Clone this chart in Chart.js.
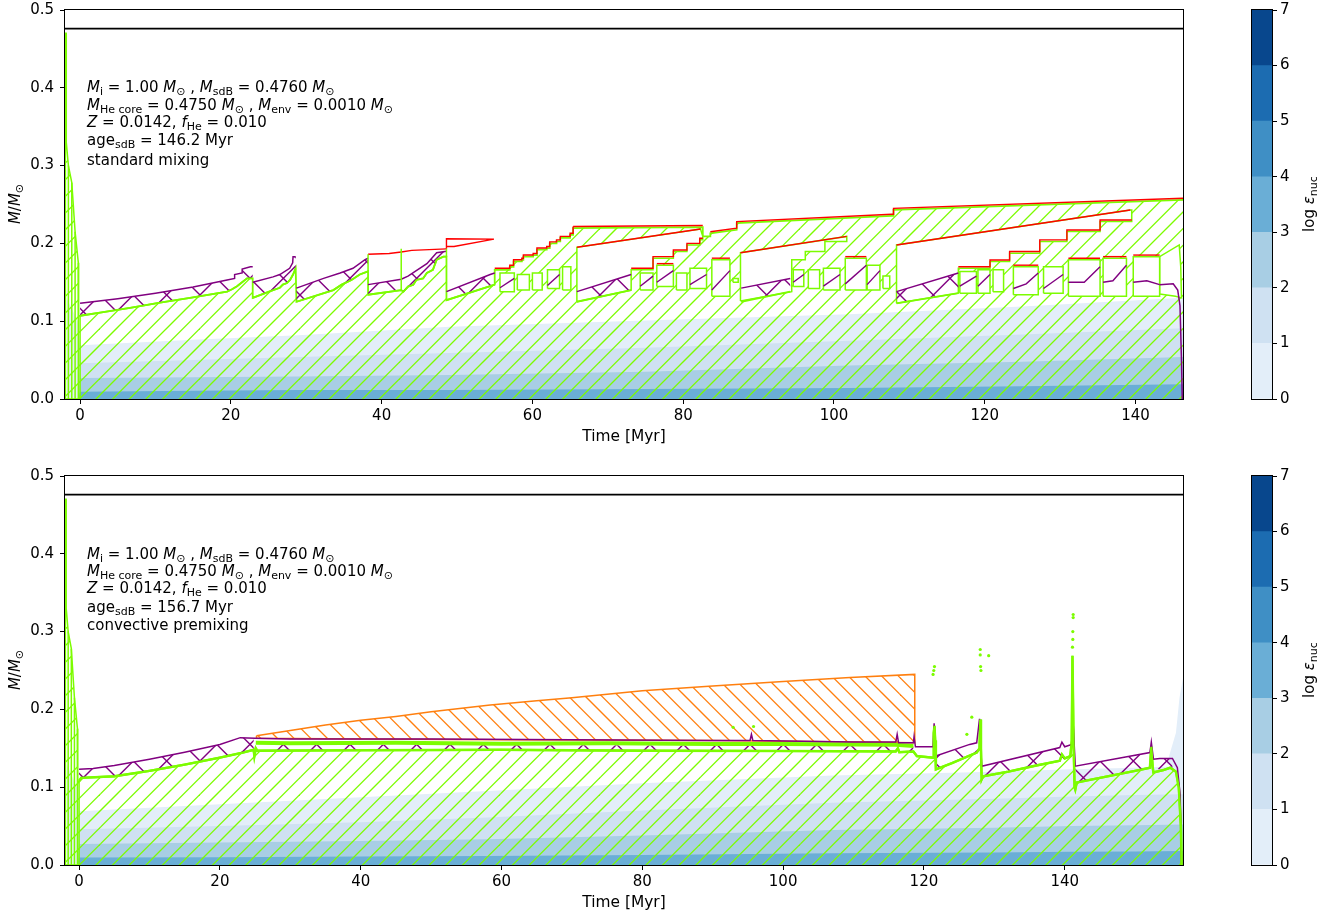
<!DOCTYPE html>
<html><head><meta charset="utf-8">
<script src="https://cdn.jsdelivr.net/npm/chart.js@4/dist/chart.umd.min.js"></script>
<style>
html,body{margin:0;padding:0;background:#fff;}
body{width:1338px;height:917px;overflow:hidden;position:relative;font-family:"DejaVu Sans",sans-serif;color:#000;}
canvas{position:absolute;}
.ann{position:absolute;left:87px;font-size:15px;line-height:18px;white-space:nowrap;}
.ann sub,.rot sub{font-size:11px;line-height:0;vertical-align:-3px;}
.rot{position:absolute;transform:translate(-50%,-50%) rotate(-90deg);font-size:15px;white-space:nowrap;line-height:18px;}
</style></head><body>
<canvas id="cTop" width="1240" height="465" style="left:0;top:-5px"></canvas>
<canvas id="cBot" width="1240" height="465" style="left:0;top:461px"></canvas>
<canvas id="cbTop" width="98" height="462" style="left:1240px;top:-2px"></canvas>
<canvas id="cbBot" width="98" height="462" style="left:1240px;top:464px"></canvas>
<div id="overlay"></div>
<script>
// ================= DATA =================
const xTicks = [0, 20, 40, 60, 80, 100, 120, 140];
const yTicks = [0, 0.1, 0.2, 0.3, 0.4, 0.5];
const cbTicks = [0, 1, 2, 3, 4, 5, 6, 7];
const cbColors = ['#e3eef9', '#cfe1f2', '#a8cee4', '#6aaed6', '#3f8fc5', '#1c6cb1', '#08478d'];
const totalMass = 0.476;
const topXRange = [-2.0, 146.3];
const botXRange = [-2.0, 156.8];

// pre-sdB contraction phase (both panels)
const prePoly = [[-1.95,0],[-1.95,0.47],[-1.85,0.47],[-1.83,0.33],[-1.55,0.30],[-1.1,0.278],[-0.66,0.215],[-0.23,0.175],[-0.2,0.107],[0,0.107],[0,0]];
const preVert = [[-1.55,0],[-1.55,0.30],[-1.55,null],[-1.1,0],[-1.1,0.278],[-1.1,null],[-0.66,0],[-0.66,0.215],[-0.66,null],[-0.23,0],[-0.23,0.175]];

// ---- top panel: log eps_nuc bands (upper boundaries of levels 0,1,2,3)
const topBandT = [-1.8, -0.3, 0, 15, 29, 49, 75, 102, 125, 146.3];
const topBand0 = [0.13, 0.10, 0.069, 0.076, 0.082, 0.093, 0.101, 0.109, 0.119, 0.130];
const topBand1 = [0, 0, 0.046, 0.050, 0.054, 0.059, 0.066, 0.075, 0.083, 0.091];
const topBand2 = [0, 0, 0.027, 0.028, 0.029, 0.031, 0.035, 0.043, 0.048, 0.054];
const topBand3 = [0, 0, 0.0094, 0.0105, 0.0116, 0.0116, 0.0128, 0.014, 0.0165, 0.019];

// ---- top panel: convective envelope (upper edge of hatched region)
const topEnv = [[0,0.107],[2.65,0.111],[6.63,0.117],[10.61,0.124],[14.59,0.130],[19.5,0.138],[20.16,0.141],[20.82,0.145],[21.49,0.150],[22.15,0.155],[22.9,0.155],
 [22.9,0.130],[25.6,0.140],[26.5,0.143],[26.9,0.147],[27.45,0.149],[27.85,0.153],[28.25,0.160],[28.6,0.168],
 [28.7,0.125],[33.6,0.140],[34.7,0.147],[36.0,0.153],[37.1,0.160],[38.2,0.164],
 [38.2,0.134],[42.6,0.140],[42.9,0.138],[43.5,0.1445],[44.2,0.1467],[44.6,0.153],[45.5,0.155],[46.0,0.162],[46.8,0.166],[47.3,0.179],[48.2,0.183],[48.6,0.183],
 [48.6,0.127],[54.4,0.145],[55.0,0.147],
 [55.0,0.166],[57.0,0.166],[57.0,0.170],[57.5,0.170],[57.5,0.177],[58.6,0.177],[58.6,0.179],[58.8,0.179],[58.8,0.183],[60.1,0.183],[60.1,0.185],[60.6,0.185],[60.6,0.192],[61.9,0.192],[61.9,0.194],[62.3,0.194],[62.3,0.200],[63.2,0.200],[63.2,0.2025],[63.7,0.2025],[63.7,0.207],[65.0,0.207],[65.0,0.211],[65.4,0.211],[65.4,0.2197],
 [82.6,0.221],[82.6,0.209],[83.6,0.209],[83.6,0.213],[87.1,0.2175],[87.1,0.226],[107.65,0.2355],[107.9,0.2355],[107.9,0.243],[146.3,0.256]];

// core boundary segments (green) and the purple boundary above them
const topCoreSegs = [
 [[0,0.107],[2.65,0.111],[6.63,0.117],[10.61,0.124],[14.59,0.130],[19.5,0.138],[20.16,0.141],[20.82,0.145],[21.49,0.150],[22.15,0.155],[22.9,0.155]],
 [[22.9,0.130],[25.6,0.140],[26.5,0.143],[26.9,0.147],[27.45,0.149],[27.85,0.153],[28.25,0.160],[28.6,0.168]],
 [[28.7,0.125],[33.6,0.140],[34.7,0.147],[36.0,0.153],[37.1,0.160],[38.2,0.164]],
 [[38.2,0.134],[42.6,0.140],[42.9,0.138],[43.5,0.1445],[44.2,0.1467],[44.6,0.153],[45.5,0.155],[46.0,0.162],[46.8,0.166],[47.3,0.179],[48.2,0.183],[48.6,0.183]],
 [[48.6,0.127],[54.4,0.145],[55.0,0.147]],
 [[65.9,0.125],[73.1,0.140]],
 [[87.7,0.125],[94.2,0.138]],
 [[108.3,0.123],[116.5,0.136]]
];
const topPurpleSegs = [
 [[0,0.123],[5,0.129],[10,0.136],[15,0.144],[19.5,0.153],[20.5,0.155],[20.5,0.160],[21.5,0.162],[21.5,0.167],[22.6,0.170],[22.9,0.170]],
 [[22.9,0.150],[25.6,0.157],[26.5,0.160],[27.8,0.168],[28.2,0.175],[28.25,0.183],[28.6,0.183]],
 [[28.7,0.1425],[32.3,0.155],[34.5,0.162],[36.2,0.168],[37.8,0.179],[38.2,0.181]],
 [[38.2,0.147],[42.6,0.154],[43.5,0.158],[44.6,0.165],[46.0,0.174],[47.3,0.188],[48.6,0.19]],
 [[48.6,0.138],[54.4,0.160],[55.0,0.162]],
 [[65.9,0.138],[73.1,0.160]],
 [[87.7,0.1425],[94.2,0.155]],
 [[108.3,0.138],[116.5,0.162]]
];
const topPurpleEnd = [[143.2,0.147],[145,0.148],[145.6,0.14],[145.9,0.12],[146.1,0.05],[146.2,0.0]];
// purple boundary pieces inside the small non-convective boxes
const topPurpleInner = [
 [[55.7,0.143],[57.6,0.155]], [[62.0,0.146],[63.6,0.160]],
 [[74.3,0.145],[76.0,0.158]], [[76.5,0.150],[78.7,0.165]], [[80.9,0.147],[83.1,0.160]], [[83.8,0.140],[86.2,0.165]],
 [[94.6,0.150],[96.0,0.160]], [[98.6,0.145],[100.8,0.160]], [[101.5,0.148],[104.3,0.172]], [[104.4,0.147],[106.1,0.165]],
 [[116.7,0.145],[118.9,0.158]], [[119.1,0.145],[120.7,0.160]], [[123.8,0.142],[125.5,0.148],[127.1,0.162]], [[127.8,0.142],[130.4,0.160]],
 [[131.1,0.150],[133.2,0.150],[135.3,0.170]], [[135.7,0.150],[137.0,0.152],[138.8,0.172]], [[139.7,0.150],[141.5,0.152],[143.2,0.147]]
];

// non-convective holes inside the hatched region
const topHoles = [
 [[65.9,0.125],[65.9,0.195],[82.3,0.2185],[82.6,0.209],[82.6,0.2046],[82.2,0.2046],[82.2,0.198],[80.5,0.198],[80.5,0.1896],[78.7,0.1896],[78.7,0.181],[76.0,0.181],[76.0,0.166],[73.1,0.166],[73.1,0.140]],
 [[87.6,0.126],[87.6,0.188],[101.7,0.209],[101.7,0.2025],[98.8,0.2025],[98.8,0.1896],[96.2,0.1896],[96.2,0.179],[94.4,0.179],[94.4,0.138]],
 [[108.3,0.123],[108.3,0.198],[139.3,0.243],[139.5,0.243],[139.5,0.228],[135.3,0.228],[135.3,0.2153],[130.9,0.2153],[130.9,0.2025],[127.3,0.2025],[127.3,0.1875],[123.3,0.1875],[123.3,0.1767],[120.7,0.1767],[120.7,0.168],[116.5,0.168],[116.5,0.136]],
 [[143.2,0.135],[143.2,0.183],[145.8,0.198],[146.0,0.17],[146.1,0.13],[145.3,0.132]]
];
// small boxes: [t0, t1, m0, m1]
const topBoxes = [
 [55.7,57.6,0.138,0.162],[58.0,59.6,0.140,0.160],[60.0,61.3,0.140,0.162],[62.0,63.6,0.142,0.166],[64.0,65.1,0.140,0.170],
 [74.3,76.0,0.140,0.162],[76.5,78.7,0.1445,0.172],[79.1,80.5,0.140,0.162],[80.9,83.1,0.142,0.168],[83.8,86.2,0.132,0.179],[86.6,87.3,0.150,0.155],
 [94.6,96.0,0.1445,0.166],[96.6,98.1,0.142,0.166],[98.6,100.8,0.140,0.168],[101.5,104.3,0.140,0.181],[104.4,106.1,0.140,0.172],[106.5,107.4,0.142,0.158],
 [116.7,118.9,0.136,0.164],[119.1,120.7,0.136,0.166],[121.1,122.5,0.138,0.166],[123.8,127.1,0.134,0.170],[127.8,130.4,0.136,0.170],[131.1,135.3,0.132,0.179],[135.7,138.8,0.132,0.181],[139.7,143.2,0.132,0.183]
];
const topRed = [
 [[38.2,0.186],[41.0,0.187],[42.6,0.189],[44.0,0.191],[48.6,0.193]],
 [[48.6,0.193],[48.6,0.206],[54.9,0.2055],[49.6,0.196],[48.6,0.196]],
 [[55.0,0.168],[57.0,0.168],[57.0,0.172],[57.5,0.172],[57.5,0.179],[58.6,0.179],[58.6,0.181],[58.8,0.181],[58.8,0.185],[60.1,0.185],[60.1,0.187],[60.6,0.187],[60.6,0.194],[61.9,0.194],[61.9,0.196],[62.3,0.196],[62.3,0.202],[63.2,0.202],[63.2,0.2045],[63.7,0.2045],[63.7,0.209],[65.0,0.209],[65.0,0.213],[65.4,0.213],[65.4,0.2217]],
 [[65.4,0.2217],[82.6,0.223]],
 [[65.9,0.195],[82.3,0.2185]],
 [[73.1,0.168],[76.0,0.168],[76.0,0.183],[78.7,0.183],[78.7,0.1916],[80.5,0.1916],[80.5,0.200],[82.2,0.200],[82.2,0.2066],[82.6,0.2066]],
 [[83.6,0.215],[87.1,0.2195],[87.1,0.228],[107.65,0.2375],[107.9,0.2375],[107.9,0.245],[146.3,0.258]],
 [[87.6,0.188],[101.7,0.209]],
 [[108.3,0.198],[139.3,0.243]],
 [[116.5,0.170],[120.7,0.170],[120.7,0.1787],[123.3,0.1787],[123.3,0.1895],[127.3,0.1895],[127.3,0.2045],[130.9,0.2045],[130.9,0.2173],[135.3,0.2173],[135.3,0.230],[139.5,0.230]],
 [[76.5,0.174],[78.7,0.174]],[[83.8,0.181],[86.2,0.181]],[[101.5,0.183],[104.3,0.183]],
 [[123.8,0.172],[127.1,0.172]],[[131.1,0.181],[135.3,0.181]],[[135.7,0.183],[138.8,0.183]],[[139.7,0.185],[143.2,0.185]]
];
const topGreenOut = [
 [[38.2,0.164],[38.2,0.186]], [[42.6,0.140],[42.6,0.193]], [[48.6,0.183],[48.6,0.193]]
];

// ---- bottom panel
const botBandT = [-1.8, -0.3, 0, 20, 40, 58, 80, 107, 130, 141, 150, 156.8];
const botBand0 = [0.13, 0.10, 0.069, 0.078, 0.087, 0.095, 0.105, 0.115, 0.120, 0.123, 0.125, 0.127];
const botBand1 = [0, 0, 0.046, 0.050, 0.055, 0.061, 0.070, 0.080, 0.085, 0.088, 0.090, 0.091];
const botBand2 = [0, 0, 0.027, 0.029, 0.031, 0.033, 0.038, 0.045, 0.048, 0.050, 0.051, 0.052];
const botBand3 = [0, 0, 0.0095, 0.010, 0.011, 0.0116, 0.013, 0.015, 0.016, 0.017, 0.0175, 0.018];
const botGlow = [[154.5,0.13],[155.8,0.17],[156.3,0.215],[156.8,0.24],[156.8,0.12]];

const botEnv = [[0,0.108],[0.3,0.112],[5,0.114],[10,0.121],[15,0.129],[20,0.138],[23,0.144],[24.8,0.148],[24.9,0.140],[25.1,0.150],[25.3,0.147],[40,0.1475],[60,0.148],[80,0.147],[100,0.1465],[116,0.146],[116.3,0.150],[116.5,0.145],[118.5,0.146],[119.0,0.140],[121.3,0.138],[121.4,0.170],[121.5,0.179],[121.6,0.160],[121.7,0.123],[124,0.131],[127.5,0.1445],[127.9,0.150],[128.0,0.187],[128.1,0.150],[128.2,0.110],[128.4,0.114],[132,0.120],[136,0.128],[139.3,0.134],[139.6,0.142],[140,0.137],[140.8,0.140],[141.0,0.16],[141.1,0.269],[141.25,0.16],[141.4,0.10],[141.5,0.097],[141.7,0.106],[145,0.112],[150,0.121],[152.1,0.125],[152.3,0.152],[152.5,0.125],[152.6,0.119],[154,0.122],[155.0,0.125],[155.8,0.120],[156.2,0.10],[156.5,0.05],[156.6,0.0]];
const botUpperGreen = [[25.1,0.157],[30,0.1565],[45,0.157],[60,0.156],[75,0.1565],[90,0.1555],[100,0.1555],[110,0.155],[116,0.1545],[118.5,0.153]];
const botPurple = [[0,0.123],[2,0.124],[5,0.128],[10,0.136],[15,0.145],[20,0.155],[22.9,0.1637],[25,0.163],[30,0.162],[50,0.162],[70,0.161],[90,0.160],[95.3,0.160],[95.5,0.168],[95.7,0.160],[110,0.158],[116,0.158],[116.2,0.168],[116.4,0.157],[118.5,0.157],[118.6,0.165],[118.8,0.152],[121.3,0.152],[121.45,0.182],[121.7,0.140],[126.5,0.155],[127.5,0.157],[127.9,0.188],[128.2,0.127],[139.3,0.151],[139.6,0.158],[140,0.152],[141.0,0.155],[141.1,0.20],[141.5,0.127],[152.1,0.1445],[152.3,0.158],[152.6,0.136],[153.5,0.137],[155.3,0.137],[156.0,0.125],[156.4,0.09],[156.6,0.0]];
const botPurpleBands = [
 [[0,0.123],[2,0.124],[5,0.128],[10,0.136],[15,0.145],[20,0.155],[22.9,0.1637],[24.8,0.163],[24.8,0.148],[23,0.144],[20,0.138],[15,0.129],[10,0.121],[5,0.114],[0.3,0.112],[0,0.108]],
 [[25.3,0.155],[118.5,0.153],[118.5,0.146],[25.3,0.147]],
 [[121.7,0.140],[126.5,0.155],[127.5,0.157],[127.5,0.1445],[124,0.131],[121.7,0.123]],
 [[128.2,0.127],[139.3,0.151],[140.8,0.153],[140.8,0.140],[139.3,0.134],[136,0.128],[132,0.120],[128.4,0.114],[128.2,0.110]],
 [[141.5,0.127],[152.1,0.1445],[153.5,0.137],[155.3,0.137],[155.3,0.125],[154,0.122],[152.1,0.125],[145,0.112],[141.7,0.106]]
];
const botOrangeTop = [[25.2,0.166],[30,0.173],[35,0.180],[40,0.186],[45,0.191],[50,0.197],[58.4,0.2057],[65,0.211],[70,0.215],[80,0.224],[90,0.230],[100,0.236],[109.5,0.241],[118.7,0.245]];
const botOrangeBottom = [[118.7,0.157],[110,0.158],[90,0.160],[60,0.161],[40,0.162],[25.2,0.163]];
const botDots = [[92.9,0.177],[95.8,0.178],[121.3,0.245],[121.4,0.25],[121.5,0.255],[126.1,0.168],[126.8,0.19],[128.0,0.27],[128.0,0.277],[128.05,0.255],[128.1,0.25],[129.2,0.269],[141.1,0.28],[141.15,0.29],[141.15,0.30],[141.2,0.318],[141.2,0.322]];

const annTop = [
 '<i>M</i><sub>i</sub> = 1.00 <i>M</i><sub>⊙</sub> , <i>M</i><sub>sdB</sub> = 0.4760 <i>M</i><sub>⊙</sub>',
 '<i>M</i><sub>He core</sub> = 0.4750 <i>M</i><sub>⊙</sub> , <i>M</i><sub>env</sub> = 0.0010 <i>M</i><sub>⊙</sub>',
 '<i>Z</i> = 0.0142, <i>f</i><sub>He</sub> = 0.010',
 'age<sub>sdB</sub> = 146.2 Myr',
 'standard mixing'];
const annBot = [
 '<i>M</i><sub>i</sub> = 1.00 <i>M</i><sub>⊙</sub> , <i>M</i><sub>sdB</sub> = 0.4760 <i>M</i><sub>⊙</sub>',
 '<i>M</i><sub>He core</sub> = 0.4750 <i>M</i><sub>⊙</sub> , <i>M</i><sub>env</sub> = 0.0010 <i>M</i><sub>⊙</sub>',
 '<i>Z</i> = 0.0142, <i>f</i><sub>He</sub> = 0.010',
 'age<sub>sdB</sub> = 156.7 Myr',
 'convective premixing'];
const annTopY = [78, 96, 113, 131, 151];
const annBotY = [545, 562, 579, 598, 616];

// ================= RENDER =================
const G = '#7cfc00', PUR = '#800080', RED = '#ff0000', ORA = '#ff7f0e';
const FONT = {family: 'DejaVu Sans', size: 15};
const TFONT = {family: 'DejaVu Sans', size: 15.4};

function hatchPattern(color, dirs, perTile, lw) {
  const S = 100, c = document.createElement('canvas');
  c.width = c.height = S;
  const g = c.getContext('2d');
  g.strokeStyle = color; g.lineWidth = lw;
  const sp = S / perTile;
  for (const d of dirs) {
    for (let k = -perTile - 2; k <= 2 * perTile + 2; k++) {
      const cc = k * sp;
      g.beginPath();
      if (d === '/') { g.moveTo(cc + 3, -3); g.lineTo(cc - S - 3, S + 3); }
      else { g.moveTo(cc - 3, -3); g.lineTo(cc + S + 3, S + 3); }
      g.stroke();
    }
  }
  return g.createPattern(c, 'repeat');
}
const greenHatch = hatchPattern(G, ['/'], 6, 1.3);
const purpleX = hatchPattern(PUR, ['/', '\\'], 3, 1.4);
const orangeHatch = hatchPattern(ORA, ['\\'], 6, 1.3);

function D(points, o) {
  return Object.assign({
    data: points.map(p => ({x: p[0], y: p[1]})),
    pointRadius: 0, pointHoverRadius: 0, tension: 0, fill: false,
    borderWidth: 1.5, borderColor: 'rgba(0,0,0,0)', backgroundColor: 'rgba(0,0,0,0)', spanGaps: false
  }, o);
}
const closed = a => a.concat([a[0]]);
const boxPoly = b => [[b[0],b[2]],[b[0],b[3]],[b[1],b[3]],[b[1],b[2]],[b[0],b[2]]];
function bands(T, arrs) {
  return arrs.map((a, i) => D(T.map((t, j) => [t, a[j]]), {fill: 'origin', backgroundColor: cbColors[i], order: 110 - i}));
}

const frame = {
  id: 'frame',
  afterDatasetsDraw(chart) {
    const {ctx, chartArea: a} = chart;
    ctx.save(); ctx.strokeStyle = '#000'; ctx.lineWidth = 1;
    ctx.strokeRect(Math.round(a.left) - 0.5, Math.round(a.top) - 0.5, Math.round(a.right - a.left) + 1, Math.round(a.bottom - a.top) + 1);
    ctx.restore();
  }
};

function mainChart(id, range, datasets) {
  return new Chart(document.getElementById(id), {
    type: 'line',
    data: {datasets},
    options: {
      responsive: false, animation: false, events: [], devicePixelRatio: 1,
      layout: {padding: {left: 0, right: 57, top: 15, bottom: 0}},
      plugins: {legend: {display: false}, tooltip: {enabled: false}},
      scales: {
        x: {type: 'linear', min: range[0], max: range[1],
            afterBuildTicks: s => { s.ticks = xTicks.map(v => ({value: v})); },
            afterFit: s => { s.height = 61; },
            ticks: {color: '#000', font: FONT, padding: 3, maxRotation: 0},
            grid: {drawOnChartArea: false, tickLength: 5, color: '#000', lineWidth: 1},
            border: {display: false},
            title: {display: true, text: 'Time [Myr]', color: '#000', font: TFONT, padding: {top: 0, bottom: 14}}},
        y: {type: 'linear', min: 0, max: 0.5,
            afterBuildTicks: s => { s.ticks = yTicks.map(v => ({value: v})); },
            afterFit: s => { s.width = 65; },
            ticks: {color: '#000', font: FONT, padding: 6, callback: v => Number(v).toFixed(1)},
            grid: {drawOnChartArea: false, tickLength: 5, color: '#000', lineWidth: 1},
            border: {display: false}}
      }
    },
    plugins: [frame]
  });
}

// top panel datasets
const topSets = [
  ...bands(topBandT, [topBand0, topBand1, topBand2, topBand3]),
  D(closed(prePoly), {fill: 'shape', backgroundColor: greenHatch, borderColor: G, borderWidth: 1.5, order: 95}),
  D(topEnv, {fill: 'origin', backgroundColor: greenHatch, borderColor: G, borderWidth: 1.8, order: 90}),
  ...topHoles.map(h => D(closed(h), {fill: 'shape', backgroundColor: '#ffffff', borderColor: G, borderWidth: 1.5, order: 80})),
  ...topBoxes.map(b => D(boxPoly(b), {fill: 'shape', backgroundColor: '#ffffff', borderColor: G, borderWidth: 1.5, order: 79})),
  ...topCoreSegs.map((c, i) => D(closed(topPurpleSegs[i].concat(c.slice().reverse())), {fill: 'shape', backgroundColor: purpleX, order: 70})),
  ...topCoreSegs.map(c => D(c, {borderColor: G, borderWidth: 1.8, order: 66})),
  ...topPurpleSegs.map(p => D(p, {borderColor: PUR, borderWidth: 1.5, order: 60})),
  ...topPurpleInner.map(p => D(p, {borderColor: PUR, borderWidth: 1.4, order: 60})),
  D(topPurpleEnd, {borderColor: PUR, borderWidth: 1.5, order: 60}),
  ...topRed.map(r => D(r, {borderColor: RED, borderWidth: 1.4, order: 55})),
  ...topGreenOut.map(g => D(g, {borderColor: G, borderWidth: 1.5, order: 50})),
  D(preVert, {borderColor: G, borderWidth: 1.5, order: 45}),
  D([[topXRange[0], totalMass], [topXRange[1], totalMass]], {borderColor: '#000', borderWidth: 1.6, order: 10})
];

const botSets = [
  D(closed(botGlow), {fill: 'shape', backgroundColor: cbColors[0], order: 120}),
  ...bands(botBandT, [botBand0, botBand1, botBand2, botBand3]),
  D(closed(prePoly), {fill: 'shape', backgroundColor: greenHatch, borderColor: G, borderWidth: 1.5, order: 95}),
  D(botEnv, {fill: 'origin', backgroundColor: greenHatch, borderColor: G, borderWidth: 2.5, order: 90}),
  D(closed(botOrangeTop.concat(botOrangeBottom)), {fill: 'shape', backgroundColor: orangeHatch, borderColor: ORA, borderWidth: 1.5, order: 85}),
  ...botPurpleBands.map(p => D(closed(p), {fill: 'shape', backgroundColor: purpleX, order: 70})),
  D(botUpperGreen, {borderColor: G, borderWidth: 4, order: 65}),
  D(botPurple, {borderColor: PUR, borderWidth: 1.5, order: 60}),
  D(botEnv, {borderColor: G, borderWidth: 2.2, order: 58}),
  D(preVert, {borderColor: G, borderWidth: 1.5, order: 45}),
  D(botDots, {showLine: false, pointRadius: 1.6, pointBackgroundColor: G, pointBorderWidth: 0, order: 5}),
  D([[botXRange[0], totalMass], [botXRange[1], totalMass]], {borderColor: '#000', borderWidth: 1.6, order: 10})
];

mainChart('cTop', topXRange, topSets);
mainChart('cBot', botXRange, botSets);

function colorbar(id) {
  return new Chart(document.getElementById(id), {
    type: 'bar',
    data: {labels: [''], datasets: cbColors.map(c => ({data: [1], backgroundColor: c, borderWidth: 0, barPercentage: 1, categoryPercentage: 1}))},
    options: {
      responsive: false, animation: false, events: [], devicePixelRatio: 1,
      layout: {padding: {left: 12, right: 26, top: 12, bottom: 61}},
      plugins: {legend: {display: false}, tooltip: {enabled: false}},
      scales: {
        x: {display: false, stacked: true},
        y: {stacked: true, position: 'right', min: 0, max: 7,
            afterBuildTicks: s => { s.ticks = cbTicks.map(v => ({value: v})); },
            afterFit: s => { s.width = 40; },
            ticks: {color: '#000', font: FONT, padding: 3},
            grid: {drawOnChartArea: false, tickLength: 5, color: '#000', lineWidth: 1},
            border: {display: false}}
      }
    },
    plugins: [frame]
  });
}
colorbar('cbTop');
colorbar('cbBot');

// text overlays
const ov = document.getElementById('overlay');
function addAnn(lines, ys) {
  lines.forEach((h, i) => {
    const d = document.createElement('div');
    d.className = 'ann'; d.style.top = ys[i] + 'px'; d.innerHTML = h; ov.appendChild(d);
  });
}
addAnn(annTop, annTopY);
addAnn(annBot, annBotY);
function addRot(html, x, y) {
  const d = document.createElement('div');
  d.className = 'rot'; d.style.left = x + 'px'; d.style.top = y + 'px'; d.innerHTML = html; ov.appendChild(d);
}
addRot('<i>M</i>/<i>M</i><sub>⊙</sub>', 15, 204);
addRot('<i>M</i>/<i>M</i><sub>⊙</sub>', 15, 670);
addRot('log <i>ε</i><sub>nuc</sub>', 1309, 204);
addRot('log <i>ε</i><sub>nuc</sub>', 1309, 670);
</script>
</body></html>
